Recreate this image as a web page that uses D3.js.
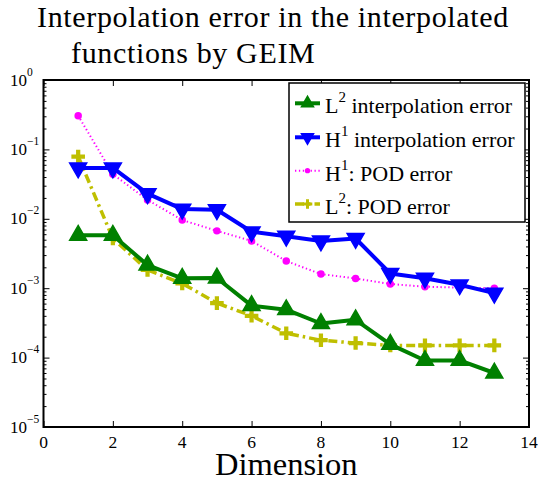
<!DOCTYPE html>
<html><head><meta charset="utf-8">
<script src="https://cdn.jsdelivr.net/npm/d3@7"></script>
<style>body{margin:0;background:#fff}</style>
</head><body><svg id="c" width="539" height="483"></svg>
<script>
const dims = [1,2,3,4,5,6,7,8,9,10,11,12,13];
const l2Interp = [5.8e-3,5.8e-3,2.15e-3,1.39e-3,1.4e-3,5.6e-4,4.9e-4,3.1e-4,3.5e-4,1.55e-4,9.1e-5,9.1e-5,6.0e-5];
const h1Interp = [5.4e-2,5.4e-2,2.3e-2,1.38e-2,1.35e-2,6.5e-3,5.6e-3,4.8e-3,5.2e-3,1.63e-3,1.39e-3,1.12e-3,8.5e-4];
const h1Pod = [0.306,4.4e-2,1.87e-2,9.6e-3,6.7e-3,4.8e-3,2.46e-3,1.6e-3,1.38e-3,1.15e-3,1.05e-3,1.02e-3,1.0e-3];
const l2Pod = [7.9e-2,5.2e-3,1.83e-3,1.17e-3,6.1e-4,4.0e-4,2.24e-4,1.78e-4,1.62e-4,1.5e-4,1.5e-4,1.5e-4,1.5e-4];
const xTicks = [0,2,4,6,8,10,12,14];
const yExps = [0,-1,-2,-3,-4,-5];
const titleLines = ["Interpolation error in the interpolated","functions by GEIM"];
const xLabel = "Dimension";
const legendItems = [
  {base:"L",sup:"2",rest:" interpolation error"},
  {base:"H",sup:"1",rest:" interpolation error"},
  {base:"H",sup:"1",rest:": POD error"},
  {base:"L",sup:"2",rest:": POD error"}
];

const FONT = "'Liberation Serif', 'Times New Roman', Times, 'DejaVu Serif', serif";
const svg = d3.select("#c").attr("font-family",FONT).style("font-family",FONT);
const L=43.5,R=529,T=80,B=427;
const x = d3.scaleLinear().domain([0,14]).range([L,R]);
const y = d3.scaleLog().domain([1e-5,1]).range([B,T]);

function txt(sel){return sel.append("text").attr("font-family",FONT).style("font-family",FONT);}

// title
txt(svg).attr("x",37).attr("y",27).attr("font-size",30).attr("letter-spacing",0.65).text(titleLines[0]);
txt(svg).attr("x",71).attr("y",63).attr("font-size",30).attr("letter-spacing",0.65).text(titleLines[1]);

// ticks
const g = svg.append("g");
const minor = [];
for(let e=-5;e<0;e++) for(let k=2;k<=9;k++) minor.push(k*Math.pow(10,e));
g.append("g").attr("transform",`translate(${L},0)`).call(d3.axisLeft(y).tickValues(minor).tickSize(-3).tickFormat(""));
g.append("g").attr("transform",`translate(${R},0)`).call(d3.axisRight(y).tickValues(minor).tickSize(-3).tickFormat(""));
g.append("g").attr("transform",`translate(${L},0)`).call(d3.axisLeft(y).tickValues(yExps.map(e=>Math.pow(10,e))).tickSize(-6).tickFormat(""));
g.append("g").attr("transform",`translate(${R},0)`).call(d3.axisRight(y).tickValues(yExps.map(e=>Math.pow(10,e))).tickSize(-6).tickFormat(""));
g.append("g").attr("transform",`translate(0,${B})`).call(d3.axisBottom(x).tickValues(xTicks).tickSize(-6).tickFormat(""));
g.append("g").attr("transform",`translate(0,${T})`).call(d3.axisTop(x).tickValues(xTicks).tickSize(-6).tickFormat(""));
g.selectAll(".domain").remove();
g.selectAll("line").attr("stroke","#000").attr("stroke-width",1);
svg.append("rect").attr("x",L).attr("y",T).attr("width",R-L).attr("height",B-T).attr("fill","none").attr("stroke","#000").attr("stroke-width",2);

// tick labels
xTicks.forEach(t=>{
  txt(svg).attr("x",x(t)).attr("y",B+21).attr("text-anchor","middle").attr("font-size",17.5).text(t);
});
yExps.forEach(e=>{
  const tx = txt(svg).attr("x",10).attr("y",y(Math.pow(10,e))+5.5).attr("font-size",17);
  tx.append("tspan").text("10");
  tx.append("tspan").attr("dy",-10).attr("font-size",11.5).text(e===0?"0":"\u2212"+(-e));
});
txt(svg).attr("x",(L+R)/2).attr("y",475).attr("text-anchor","middle").attr("font-size",32.5).text(xLabel);

// series
const line = d3.line().x((d,i)=>x(dims[i])).y(d=>y(d));
const plot = svg.append("g");
const tri = (s,down)=>{const h=s*0.866;return down?`M${-s/2},${-h/3}L${s/2},${-h/3}L0,${2*h/3}Z`:`M${-s/2},${h/3}L${s/2},${h/3}L0,${-2*h/3}Z`;};
const plus = s=>`M${-s/2},0L${s/2},0M0,${-s/2}L0,${s/2}`;
const series = [
  {data:l2Interp,color:"#008000",w:4,dash:null,marker:"up"},
  {data:h1Interp,color:"#0000ff",w:4,dash:null,marker:"down"},
  {data:h1Pod,color:"#ff00ff",w:2,dash:"1.3,2.6",marker:"dot"},
  {data:l2Pod,color:"#bfbf00",w:3.5,dash:"9,4,2.5,4",marker:"plus"}
];
function drawMarker(sel,m,color,size){
  if(m==="up") sel.append("path").attr("d",tri(size,false)).attr("fill",color).attr("stroke",color).attr("stroke-width",1.5);
  else if(m==="down") sel.append("path").attr("d",tri(size,true)).attr("fill",color).attr("stroke",color).attr("stroke-width",1.5);
  else if(m==="dot") sel.append("circle").attr("r",size*0.22).attr("fill",color);
  else sel.append("path").attr("d",plus(size*0.8)).attr("stroke",color).attr("stroke-width",size*0.25).attr("fill","none");
}
const order=[3,2,0,1];
order.forEach(si=>{
  const s=series[si];
  plot.append("path").attr("d",line(s.data)).attr("fill","none").attr("stroke",s.color).attr("stroke-width",s.w).attr("stroke-dasharray",s.dash).attr("stroke-linejoin","round");
});
order.forEach(si=>{
  const s=series[si];
  s.data.forEach((d,i)=>{
    const mg = plot.append("g").attr("transform",`translate(${x(dims[i])},${y(d)})`);
    drawMarker(mg,s.marker,s.color,17);
  });
});

// legend
const lg = svg.append("g");
lg.append("rect").attr("x",289).attr("y",83).attr("width",236).attr("height",139).attr("fill","#fff").attr("stroke","#000").attr("stroke-width",1.5);
const rowsBase=[113.3,147.3,180.7,214];
legendItems.forEach((it,i)=>{
  const s=series[i], yy=rowsBase[i]-10;
  lg.append("line").attr("x1",295).attr("x2",320).attr("y1",yy).attr("y2",yy).attr("stroke",s.color).attr("stroke-width",s.w).attr("stroke-dasharray",s.dash);
  const mg = lg.append("g").attr("transform",`translate(307.5,${yy})`);
  drawMarker(mg,s.marker,s.color,12);
  const t = txt(lg).attr("x",325).attr("y",rowsBase[i]).attr("font-size",22);
  t.append("tspan").text(it.base);
  t.append("tspan").attr("dy",-11).attr("font-size",15).text(it.sup);
  t.append("tspan").attr("dy",11).text(it.rest);
});
</script></body></html>
